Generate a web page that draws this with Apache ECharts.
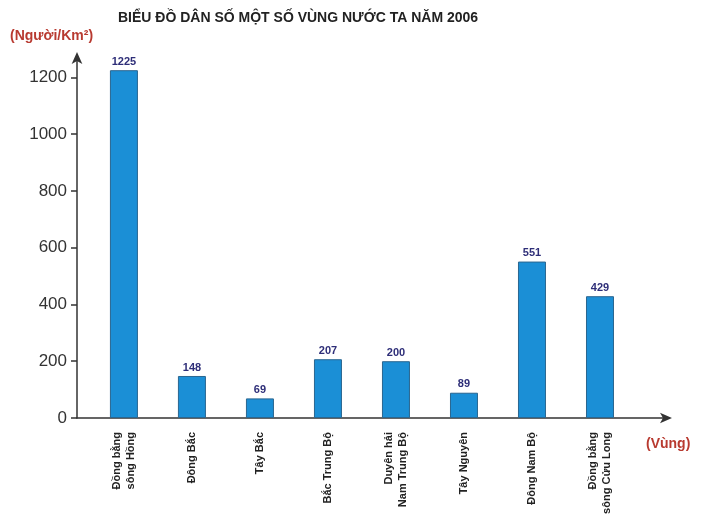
<!DOCTYPE html>
<html>
<head>
<meta charset="utf-8">
<script src="https://cdn.jsdelivr.net/npm/echarts@6/dist/echarts.min.js"></script>
<style>
  html, body { margin: 0; padding: 0; background: #fff; }
  #chart { width: 702px; height: 525px; }
</style>
</head>
<body>
<div id="chart"></div>
<script>
// vùng + mật độ dân số (người/km2)
const regions = [
  'Đồng bằng\nsông Hồng',
  'Đông Bắc',
  'Tây Bắc',
  'Bắc Trung Bộ',
  'Duyên hải\nNam Trung Bộ',
  'Tây Nguyên',
  'Đông Nam Bộ',
  'Đồng bằng\nsông Cửu Long'
]
const density = [1225, 148, 69, 207, 200, 89, 551, 429]
const yTicks = [0, 200, 400, 600, 800, 1000, 1200]

const chart = echarts.init(document.getElementById('chart'))
const red = '#b83a30'
const axisColor = '#333'

const option = {
  animation: false,
  title: [
    {
      text: 'BIỂU ĐỒ DÂN SỐ MỘT SỐ VÙNG NƯỚC TA NĂM 2006',
      left: 113,
      top: 6,
      textStyle: { fontFamily: 'Liberation Sans, Arial', fontSize: 14, fontWeight: 'bold', color: '#222' }
    },
    {
      text: '(Người/Km²)',
      left: 5,
      top: 24,
      textStyle: { fontFamily: 'Liberation Sans, Arial', fontSize: 14, fontWeight: 'bold', color: red }
    },
    {
      text: '(Vùng)',
      left: 641,
      top: 432,
      textStyle: { fontFamily: 'Liberation Sans, Arial', fontSize: 14, fontWeight: 'bold', color: red }
    }
  ],
  grid: { left: 77, right: 34, top: 56, bottom: 107 },
  xAxis: {
    type: 'value',
    min: -0.69,
    max: 8,
    splitLine: { show: false },
    axisLine: {
      lineStyle: { color: axisColor, width: 1.5 },
      symbol: ['none', 'arrow'],
      symbolSize: [8, 12],
      symbolOffset: [0, 4]
    },
    axisTick: { show: false },
    axisLabel: {
      customValues: regions.map((r, i) => i),
      formatter: v => regions[v] || '',
      rotate: 90,
      margin: 14,
      fontFamily: 'Liberation Sans, Arial',
      fontSize: 11,
      fontWeight: 'bold',
      lineHeight: 14,
      color: '#222'
    }
  },
  yAxis: {
    type: 'value',
    min: 0,
    max: 1275,
    splitLine: { show: false },
    axisLine: {
      show: true,
      onZero: false,
      lineStyle: { color: axisColor, width: 1.5 },
      symbol: ['none', 'arrow'],
      symbolSize: [8, 12],
      symbolOffset: [0, 4]
    },
    axisTick: { show: true, length: 6, customValues: yTicks, lineStyle: { color: axisColor, width: 1.5 } },
    axisLabel: {
      customValues: yTicks,
      formatter: v => String(v),
      margin: 10,
      fontFamily: 'Liberation Sans, Arial',
      fontSize: 17,
      color: '#333'
    }
  },
  series: [{
    type: 'bar',
    barWidth: 28,
    data: density.map((v, i) => [i, v]),
    itemStyle: { color: '#1b8fd6', borderColor: '#2a6690', borderWidth: 1 },
    label: {
      show: true,
      position: 'top',
      distance: 3,
      fontFamily: 'Liberation Sans, Arial',
      fontSize: 11,
      fontWeight: 'bold',
      color: '#2e2e78',
      formatter: p => p.value[1]
    }
  }]
}

chart.setOption(option)
</script>
</body>
</html>
